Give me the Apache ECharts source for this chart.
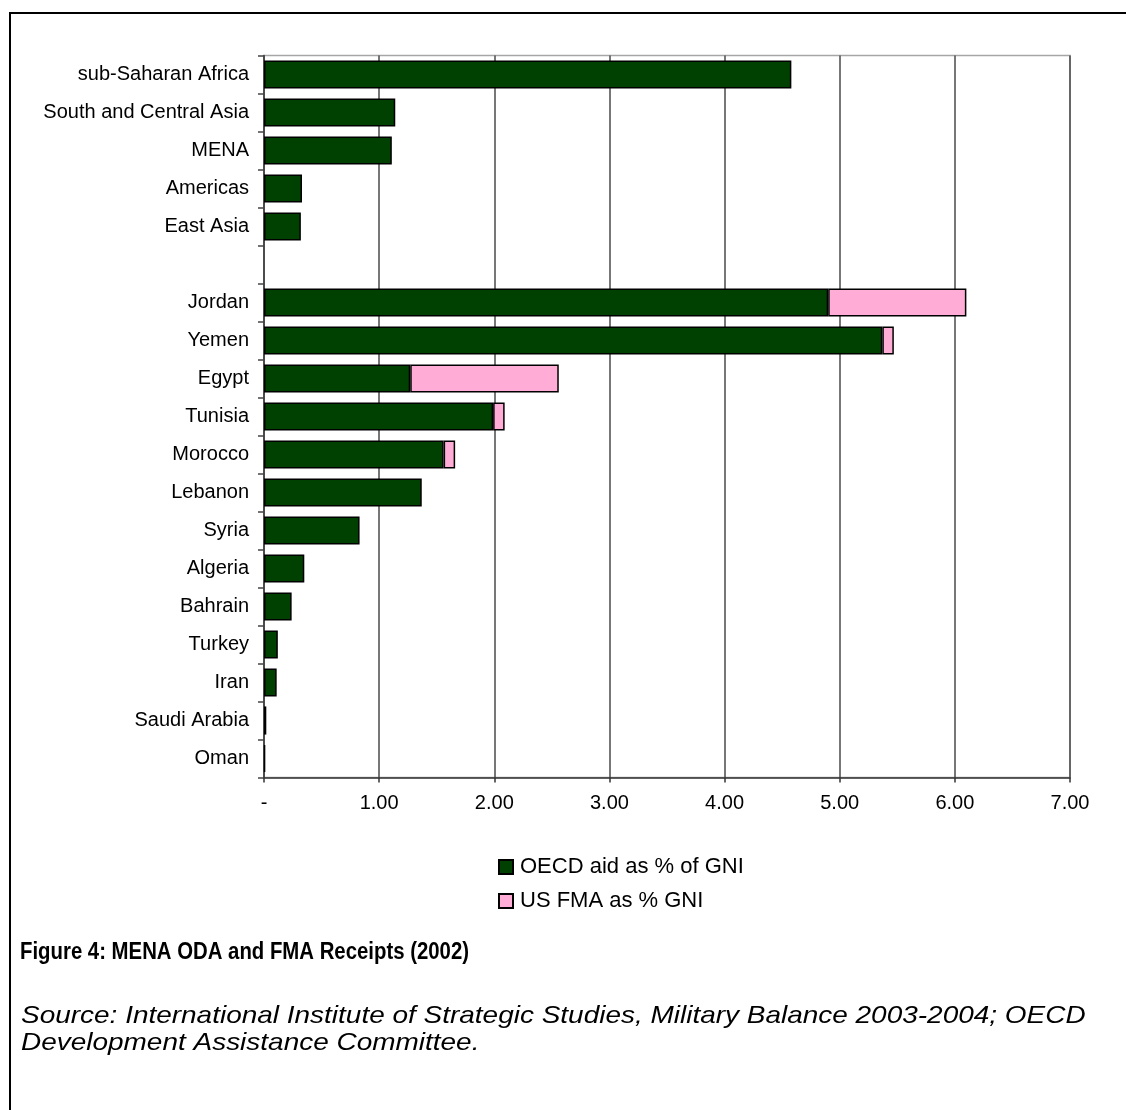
<!DOCTYPE html>
<html>
<head>
<meta charset="utf-8">
<title>MENA ODA and FMA Receipts (2002)</title>
<script src="https://cdn.jsdelivr.net/npm/echarts@6/dist/echarts.min.js"></script>
<style>
  html, body { margin: 0; padding: 0; background: #ffffff; }
  #chart { width: 1126px; height: 1110px; }
</style>
</head>
<body>
<div id="chart"></div>
<script>
// Recipients, top to bottom; the empty entry leaves a gap between regions and countries
const categories = [
  'sub-Saharan Africa', 'South and Central Asia', 'MENA', 'Americas', 'East Asia',
  '',
  'Jordan', 'Yemen', 'Egypt', 'Tunisia', 'Morocco', 'Lebanon', 'Syria', 'Algeria',
  'Bahrain', 'Turkey', 'Iran', 'Saudi Arabia', 'Oman'
];

// OECD aid as % of GNI
const oecdAid = [
  4.58, 1.14, 1.11, 0.33, 0.32,
  null,
  4.90, 5.37, 1.27, 1.99, 1.56, 1.37, 0.83, 0.35,
  0.24, 0.12, 0.11, 0.02, 0.01
];

// US FMA as % GNI (stacked after the OECD share)
const usFma = [
  null, null, null, null, null,
  null,
  1.20, 0.10, 1.29, 0.10, 0.10, null, null, null,
  null, null, null, null, null
];

const xTicks = { min: 0, max: 7, step: 1 };

const seriesNames = ['OECD aid as % of GNI', 'US FMA as % GNI'];
const titleText = 'Figure 4: MENA ODA and FMA Receipts (2002)';
const sourceLines = [
  'Source: International Institute of Strategic Studies, Military Balance 2003-2004; OECD',
  'Development Assistance Committee.'
];

const FONT = '"Liberation Sans", Arial, sans-serif';

// Caption text blocks: title is set tight, source is set wide
const captionText = (text, x, y, font, scaleX) => ({
  type: 'text',
  silent: true,
  x: x,
  y: y,
  scaleX: scaleX,
  originX: 0,
  originY: 0,
  style: { text: text, font: font, fill: '#000', verticalAlign: 'middle', align: 'left' }
});

const chart = echarts.init(document.getElementById('chart'), null, { renderer: 'canvas' });

chart.setOption({
  backgroundColor: '#ffffff',
  animation: false,
  textStyle: { fontFamily: FONT, color: '#000' },
  graphic: [
    {
      type: 'rect',
      silent: true,
      shape: { x: 10, y: 13, width: 1200, height: 1200 },
      style: { fill: 'none', stroke: '#000', lineWidth: 2 }
    },
    captionText(titleText, 20, 953, 'bold 23px ' + FONT, 0.885),
    captionText(sourceLines[0], 21, 1016, 'italic 24px ' + FONT, 1.165),
    captionText(sourceLines[1], 21, 1043, 'italic 24px ' + FONT, 1.165)
  ],
  legend: {
    orient: 'vertical',
    left: 498,
    top: 856,
    padding: 0,
    itemWidth: 14,
    itemHeight: 14,
    itemGap: 12,
    icon: 'rect',
    data: seriesNames,
    textStyle: { fontFamily: FONT, fontSize: 22, color: '#000', padding: [0, 0, 0, 2] }
  },
  grid: {
    left: 264,
    right: 56,
    top: 55.5,
    bottom: 332.5,
    show: true,
    borderColor: '#a6a6a6',
    borderWidth: 1.5,
    backgroundColor: 'transparent'
  },
  xAxis: {
    type: 'value',
    min: xTicks.min,
    max: xTicks.max,
    interval: xTicks.step,
    axisLine: { show: true, onZero: false, lineStyle: { color: '#333', width: 1.5 } },
    axisTick: { show: true, inside: false, length: 5, lineStyle: { color: '#333', width: 1.5 } },
    axisLabel: {
      margin: 16,
      fontFamily: FONT,
      fontSize: 20,
      color: '#000',
      formatter: v => (v === 0 ? '-' : v.toFixed(2))
    },
    splitLine: { show: true, lineStyle: { color: '#4a4a4a', width: 1.5 } }
  },
  yAxis: {
    type: 'category',
    inverse: true,
    data: categories,
    axisLine: { show: true, lineStyle: { color: '#444', width: 1.5 } },
    axisTick: { show: true, inside: false, length: 6, lineStyle: { color: '#444', width: 1.5 } },
    axisLabel: { margin: 15, fontFamily: FONT, fontSize: 20, color: '#000' },
    splitLine: { show: false }
  },
  series: [
    {
      name: seriesNames[0],
      type: 'bar',
      stack: 'receipts',
      data: oecdAid,
      barCategoryGap: '26%',
      itemStyle: { color: '#004000', borderColor: '#000', borderWidth: 1.5 }
    },
    {
      name: seriesNames[1],
      type: 'bar',
      stack: 'receipts',
      data: usFma,
      barCategoryGap: '26%',
      itemStyle: { color: '#FFADD6', borderColor: '#000', borderWidth: 1.5 }
    }
  ]
});
</script>
</body>
</html>
